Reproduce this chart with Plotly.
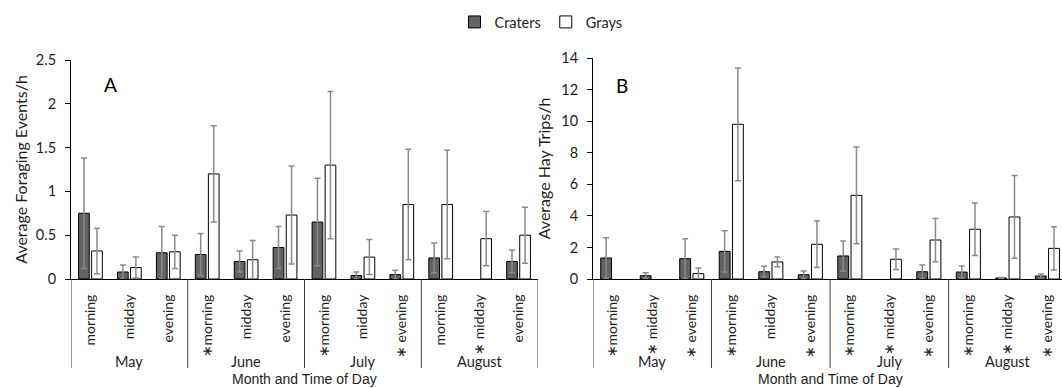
import plotly.graph_objects as go

# ---------------- data ----------------
months = ["May", "June", "July", "August"]
times = ["morning", "midday", "evening"]

a_craters = [0.75, 0.08, 0.30, 0.28, 0.20, 0.36, 0.65, 0.04, 0.05, 0.24, None, 0.20]
a_craters_err = [0.63, 0.08, 0.30, 0.24, 0.12, 0.24, 0.50, 0.04, 0.05, 0.17, None, 0.13]
a_grays = [0.32, 0.13, 0.31, 1.20, 0.22, 0.73, 1.30, 0.25, 0.85, 0.85, 0.46, 0.50]
a_grays_err = [0.26, 0.12, 0.19, 0.55, 0.22, 0.56, 0.84, 0.20, 0.63, 0.62, 0.31, 0.32]

b_craters = [1.33, 0.21, 1.29, 1.75, 0.46, 0.27, 1.46, None, 0.46, 0.44, 0.06, 0.19]
b_craters_err = [1.29, 0.19, 1.26, 1.31, 0.34, 0.24, 0.95, None, 0.43, 0.38, 0.04, 0.13]
b_grays = [None, None, 0.34, 9.80, 1.08, 2.20, 5.30, 1.25, 2.47, 3.15, 3.93, 1.94]
b_grays_err = [None, None, 0.36, 3.57, 0.31, 1.47, 3.06, 0.65, 1.37, 1.66, 2.62, 1.37]

# categories flagged with an asterisk (index into month x time list)
a_star = [3, 6, 8, 10]
b_star = [0, 1, 2, 3, 5, 6, 7, 8, 9, 10, 11]

a_yticks = [0, 0.5, 1, 1.5, 2, 2.5]
a_yticklabels = ["0", "0.5", "1", "1.5", "2", "2.5"]
b_yticks = [0, 2, 4, 6, 8, 10, 12, 14]

# ---------------- derived ----------------
cat_labels = [t for m in months for t in times]
xpos = list(range(len(cat_labels)))


def ticktexts(stars):
    out = []
    for i, t in enumerate(cat_labels):
        if i in stars:
            out.append("∗" + ("" if t == "morning" else " ") + t)
        else:
            out.append(t)
    return out


W, H = 1062, 388
PT, PB = 58, 279          # plot area top / bottom (px)
PH = PB - PT


def py(p):               # pixel y -> paper y
    return (PB - p) / PH


FONT = "Lato"
TXT = "#1e1e1e"
DARK = "#636363"
ERRC = "#8a8a8a"

fig = go.Figure()


def add_pair(craters, cerr, grays, gerr, xa, ya, show):
    fig.add_trace(go.Bar(
        x=xpos, y=craters, name="Craters", xaxis=xa, yaxis=ya,
        marker=dict(color=DARK, line=dict(color="#000000", width=1)),
        error_y=dict(type="data", array=cerr, visible=True, color=ERRC,
                     thickness=1.5, width=3),
        showlegend=show, legendgroup="c"))
    fig.add_trace(go.Bar(
        x=xpos, y=grays, name="Grays", xaxis=xa, yaxis=ya,
        marker=dict(color="#ffffff", line=dict(color="#000000", width=1)),
        error_y=dict(type="data", array=gerr, visible=True, color=ERRC,
                     thickness=1.5, width=3),
        showlegend=show, legendgroup="g"))


add_pair(a_craters, a_craters_err, a_grays, a_grays_err, "x", "y", True)
add_pair(b_craters, b_craters_err, b_grays, b_grays_err, "x2", "y2", False)

xcommon = dict(
    tickmode="array", tickvals=xpos, tickangle=-90,
    ticks="", showline=True, linecolor="#000000", linewidth=1,
    showgrid=False, zeroline=False, ticklabelstandoff=9,
    tickfont=dict(family=FONT, size=14, color=TXT),
)
ycommon = dict(
    showline=True, linecolor="#000000", linewidth=1, ticks="outside",
    ticklen=5, tickcolor="#000000", showgrid=False, zeroline=False,
    ticklabelstandoff=6,
    tickfont=dict(family=FONT, size=14.5, color=TXT),
)

fig.update_layout(
    width=W, height=H,
    margin=dict(l=0, r=0, t=PT, b=H - PB, pad=0),
    paper_bgcolor="white", plot_bgcolor="white",
    barmode="group", bargap=0.33, bargroupgap=0.18,
    font=dict(family=FONT, color=TXT),
    xaxis=dict(domain=[71 / W, 538 / W], range=[-0.5, 11.5], anchor="y",
               ticktext=ticktexts(a_star), **xcommon),
    xaxis2=dict(domain=[593 / W, 1.0], range=[-0.5, 11.37], anchor="y2",
                ticktext=ticktexts(b_star), **xcommon),
    yaxis=dict(domain=[0, (PB - 60) / PH], range=[0, 2.5], anchor="x",
               tickvals=a_yticks, ticktext=a_yticklabels,
               title=dict(text="Average Foraging Events/h",
                          font=dict(family=FONT, size=16, color=TXT), standoff=4),
               **ycommon),
    yaxis2=dict(domain=[0, 1], range=[0, 14], anchor="x2", tickvals=b_yticks,
                title=dict(text="Average Hay Trips/h",
                           font=dict(family=FONT, size=16, color=TXT), standoff=6),
                **ycommon),
    legend=dict(orientation="h", x=541 / W, xanchor="center", y=py(22),
                yanchor="middle", font=dict(family=FONT, size=14.5, color=TXT),
                itemwidth=30, traceorder="normal"),
)

annotations = []
shapes = []
for xa in ("x", "x2"):
    # month dividers
    for b in [-0.5, 2.5, 5.5, 8.5, 11.5]:
        shapes.append(dict(type="line", xref=xa, yref="paper", x0=b, x1=b,
                           y0=0, y1=py(368), line=dict(color="#3c3c3c", width=1)))
    # month labels
    for i, m in enumerate(months):
        annotations.append(dict(text=m, x=i * 3 + 1, y=py(361), xref=xa, yref="paper",
                                showarrow=False, yanchor="middle",
                                font=dict(family=FONT, size=14.5, color=TXT)))
    # x axis title
    annotations.append(dict(text="Month and Time of Day", x=5.5, y=py(379), xref=xa,
                            yref="paper", showarrow=False, yanchor="middle",
                            font=dict(family="Liberation Sans", size=14, color=TXT)))

annotations.append(dict(text="A", x=102 / W, y=py(71), xref="paper", yref="paper",
                        showarrow=False, font=dict(family=FONT, size=19, color="#000")))
annotations.append(dict(text="B", x=622 / W, y=py(72), xref="paper", yref="paper",
                        showarrow=False, font=dict(family=FONT, size=19, color="#000")))

fig.update_layout(annotations=annotations, shapes=shapes)
fig.write_html("out.html")
